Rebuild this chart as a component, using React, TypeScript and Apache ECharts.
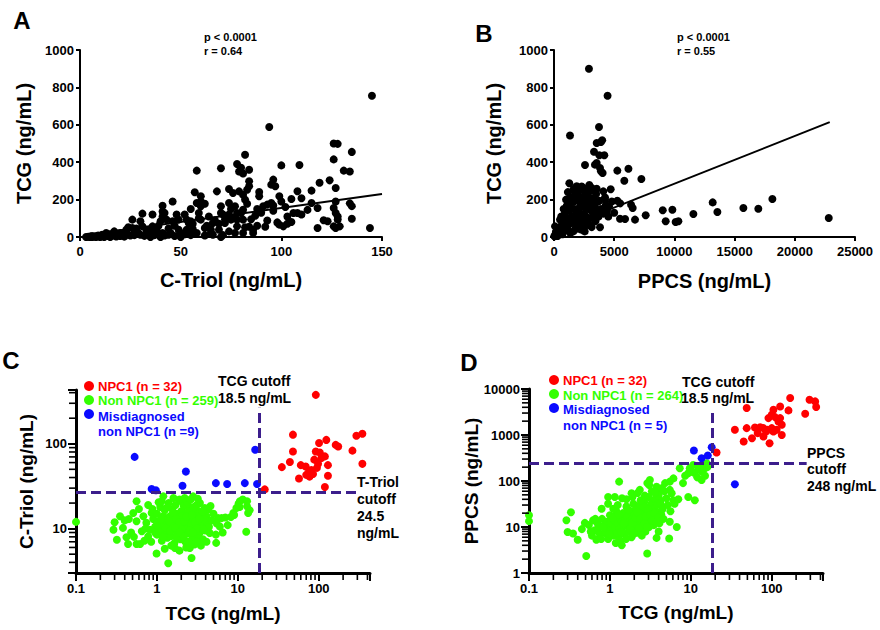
import React, { useEffect, useRef } from 'react';
import * as echarts from 'echarts';

const FONT = '"Liberation Sans", Arial, Helvetica, sans-serif';

// ---------- Panel A: C-Triol vs TCG ----------
const A_FIT = [[4, 12], [150, 230]];
const A_POINTS = [
  [145, 755], [94, 588], [126, 500], [128, 498], [135, 455], [126, 415], [82, 440], [78, 390], [80, 370], [79, 350],
  [81, 340], [84, 360], [58, 355], [70, 368], [100, 383], [109, 385], [131, 355], [134, 350], [134, 180], [135, 165],
  [119, 290], [124, 303], [127, 262], [127, 190], [126, 155], [127, 128], [128, 110], [128, 93], [123, 84], [129, 57],
  [135, 98], [118, 48], [144, 48], [115, 182], [115, 248], [108, 245], [105, 203], [110, 207], [108, 128], [110, 120],
  [103, 110], [101, 57], [96, 307], [95, 280], [97, 271], [99, 218], [100, 190], [93, 173], [91, 164], [96, 169],
  [89, 241], [89, 218], [92, 55], [98, 78], [99, 66], [84, 298], [84, 271], [83, 253], [81, 226], [82, 200],
  [83, 178], [81, 146], [80, 128], [81, 93], [87, 114], [86, 21], [77, 164], [78, 128], [78, 93], [78, 57],
  [82, 52], [76, 100], [74, 257], [74, 182], [75, 150], [74, 120], [75, 93], [71, 120], [72, 93], [72, 75],
  [70, 164], [70, 128], [69, 71], [69, 39], [70, 0], [66, 75], [65, 39], [65, 21], [68, 244], [62, 178],
  [60, 218], [60, 190], [60, 164], [59, 128], [59, 100], [60, 93], [57, 239], [58, 182], [55, 84], [56, 71],
  [56, 43], [62, 48], [53, 93], [54, 75], [55, 150], [52, 120], [49, 93], [48, 120], [50, 21], [49, 39],
  [50, 0], [46, 190], [46, 84], [43, 93], [41, 137], [42, 128], [41, 167], [41, 110], [40, 84], [45, 21],
  [41, 21], [38, 39], [36, 57], [36, 120], [31, 125], [30, 84], [31, 57], [33, 39], [26, 93], [27, 21],
  [26, 48], [29, 21], [23, 39], [23, 21], [20, 21], [17, 30], [13, 21], [12, 7], [8, 4], [5, 0],
  [3, 0], [35, 0], [40, 0], [36, 21], [53, 39], [58, 21], [77, 21], [81, 21], [86, 39], [76, 235],
  [79, 244], [106, 128], [105, 80], [103, 71], [126, 57], [127, 48], [95, 182], [88, 150], [90, 130], [85, 95],
  [64, 110], [67, 90], [63, 60], [47, 60], [44, 45], [39, 60], [34, 30], [28, 45], [24, 52], [22, 10],
  [19, 12], [16, 8], [15, 15], [14, 5], [11, 12], [10, 3], [9, 8], [7, 2], [6, 5], [5, 3],
  [4, 1], [6, 0], [8, 0], [10, 0], [12, 0], [15, 0], [18, 3], [20, 5], [22, 2], [25, 8],
  [27, 10], [30, 12], [32, 6], [34, 15], [37, 10], [39, 14], [42, 8], [44, 12], [47, 5], [52, 15],
  [55, 10], [62, 8], [66, 12], [71, 10], [74, 30], [84, 55], [88, 60], [93, 88], [96, 140], [102, 160],
  [113, 145], [118, 155], [121, 90],
];

// ---------- Panel B: PPCS vs TCG ----------
const B_FIT = [[0, 30], [22900, 614]];
const B_POINTS = [
  [2900, 900], [4450, 755], [1330, 543], [3740, 588], [3900, 508], [3545, 503], [4000, 517], [3323, 456], [3400, 387], [3545, 396],
  [3766, 437], [4181, 437], [3820, 369], [3900, 351], [4040, 342], [2575, 385], [2935, 278], [1274, 287], [5261, 355], [6180, 365],
  [5840, 301], [7255, 310], [4710, 255], [4098, 244], [4236, 212], [3766, 194], [5261, 194], [6400, 173], [6535, 155], [7615, 116],
  [6730, 93], [5900, 96], [5480, 98], [9030, 143], [9830, 146], [9276, 84], [10100, 80], [10330, 84], [11575, 123], [13180, 185],
  [13570, 134], [15730, 155], [16970, 151], [18140, 203], [22820, 102], [4513, 110], [4570, 164], [4236, 200], [3545, 258], [3130, 262],
  [2714, 253], [2437, 262], [3820, 52], [3130, 53], [2630, 61], [83, 57], [221, 21], [28, 4], [498, 93], [914, 128],
  [1052, 164], [1190, 200], [1385, 214], [1606, 253], [1883, 271], [2160, 253],
  [100, 10], [200, 30], [300, 5], [400, 40], [500, 20], [600, 60], [700, 15], [800, 80], [900, 35], [1000, 100],
  [1100, 50], [1200, 140], [1300, 70], [1400, 180], [1500, 110], [1600, 30], [1700, 150], [1800, 200], [1900, 90], [2000, 230],
  [2100, 130], [2200, 170], [2300, 60], [2400, 210], [2500, 120], [2600, 190], [2700, 150], [2800, 230], [2900, 100], [3000, 175],
  [3100, 140], [3200, 205], [3300, 120], [3400, 160], [3500, 230], [3600, 135], [3700, 110], [3900, 150], [4100, 125], [4300, 170],
  [1150, 240], [1350, 20], [1550, 80], [1750, 240], [1950, 45], [2150, 190], [2350, 95], [2550, 30], [2750, 80], [2950, 210],
  [3150, 250], [3350, 200], [3450, 85], [3650, 190], [600, 110], [800, 150], [1000, 200], [1250, 100], [1450, 150], [1650, 190],
  [1850, 120], [2050, 70], [2250, 40], [2450, 160], [2650, 110], [2850, 180], [3050, 60], [3250, 170], [1700, 260], [2300, 270],
  [2600, 240], [2000, 150], [1500, 210], [1100, 170], [900, 60], [700, 90], [400, 15], [250, 45], [150, 25], [50, 5],
  [1800, 50], [2500, 75], [3000, 100], [4400, 140], [4800, 190], [5000, 130], [5500, 180], [1900, 220], [2200, 100],
];

// ---------- Panel C: TCG vs C-Triol (log-log) ----------
const C_NPC1 = [
  [92, 377], [48, 128], [292, 124], [346, 131], [101, 102], [124, 111], [162, 97], [174, 93], [92, 81], [103, 79],
  [48, 81], [261, 83], [119, 71], [108, 68], [88, 65], [44, 61], [35, 53], [60, 56], [69, 54], [130, 56],
  [346, 58], [98, 58], [95, 52], [81, 49], [70, 43], [77, 41], [85, 44], [57, 39], [130, 42], [119, 31],
  [21.5, 29], [75, 46],
];
const C_MISDIAG = [
  [0.53, 70], [16.4, 85], [2.28, 47], [2.07, 32], [0.86, 29.3], [0.97, 28.3], [5.35, 34.4], [7.38, 33.5], [12.2, 34.4], [17.3, 33.5],
];
const C_NON_NPC1 = [
  [0.1, 12], [0.3, 11.9], [0.29, 9.7], [0.32, 7.4], [0.35, 14], [0.38, 10.2], [0.44, 6.6], [0.42, 7.9], [0.56, 21], [0.51, 15.3],
  [0.56, 12.2], [0.62, 6.6], [0.56, 6.6], [0.52, 8], [0.65, 9.3], [0.74, 11.7], [0.82, 9.7], [0.78, 8.1], [0.86, 15.3], [0.78, 19],
  [0.99, 5.1], [1.38, 3.9], [1.67, 5.9], [2.55, 5.9], [2.68, 4.5], [1.2, 24], [2.8, 24], [2.0, 21], [3.4, 20], [4.3, 16.8],
  [4.1, 14], [4.5, 8.9], [5.35, 8.5], [5.4, 6.8], [5.7, 13.3], [6.3, 13.3], [6.0, 10.6], [8.2, 13.7], [8.8, 15.3], [9.6, 17.5],
  [10.2, 19.7], [10.6, 21], [13, 18.3], [13.4, 15.3], [12.7, 9.2], [0.45, 13], [0.48, 9], [0.6, 17], [0.68, 14], [0.7, 7.2],
  [0.72, 10], [0.4, 12.5], [0.9, 13], [0.95, 10.5], [1.0, 8.5], [1.0, 15], [1.05, 12], [1.1, 9.5], [1.1, 18], [1.15, 7.2],
  [1.2, 11], [1.2, 14], [1.25, 16.5], [1.3, 9], [1.3, 12.5], [1.35, 7.8], [1.4, 20], [1.4, 10.5], [1.45, 14], [1.5, 8.2],
  [1.5, 12], [1.55, 17], [1.6, 9.8], [1.6, 13.5], [1.65, 6.8], [1.7, 11], [1.7, 19], [1.75, 15], [1.8, 8.8], [1.8, 12.5],
  [1.85, 10], [1.9, 14.5], [1.9, 22], [1.95, 7.5], [2.0, 11.5], [2.0, 16], [2.1, 9.2], [2.1, 13], [2.15, 18.5], [2.2, 10.5],
  [2.25, 7], [2.3, 12], [2.3, 15], [2.4, 8.8], [2.4, 20], [2.5, 11], [2.5, 13.8], [2.6, 9.5], [2.6, 17], [2.7, 12.5],
  [2.75, 7.8], [2.8, 10.5], [2.9, 15], [3.0, 9], [3.0, 13], [3.1, 19], [3.2, 11], [3.3, 8], [3.3, 16], [3.4, 12.5],
  [3.5, 10], [3.6, 14], [3.7, 7.5], [3.8, 11.5], [3.9, 17.5], [4.0, 9.5], [4.2, 12], [1.15, 21], [1.6, 23], [2.2, 23],
  [2.6, 22], [3.2, 22.5], [1.25, 5.8], [1.5, 6.3], [1.9, 5.5], [2.3, 6], [2.9, 6.5], [3.5, 6.3], [0.85, 7], [0.88, 17],
  [1.05, 20.5], [1.35, 18], [1.55, 10.8], [1.75, 8], [2.05, 14], [2.35, 9.8], [2.45, 16], [2.65, 11.5], [2.85, 18], [3.05, 11.8],
  [3.25, 14], [3.45, 9.2], [3.65, 16], [3.85, 13], [4.1, 7], [4.4, 10.5], [4.6, 18.5], [4.8, 12.5], [5.0, 15], [1.0, 11],
  [1.12, 13], [1.28, 10.2], [1.42, 12.2], [1.58, 15.5], [1.72, 13], [1.88, 11.8], [2.02, 9.8], [2.18, 12.2], [2.32, 13.8], [2.55, 9.5],
  [2.72, 14.5], [2.95, 12], [3.15, 10], [3.35, 13], [3.75, 9.8], [0.95, 9], [1.18, 8], [1.45, 9.4], [1.68, 10.2], [1.92, 9],
  [2.15, 8], [2.45, 7], [2.78, 9], [3.08, 7], [5.5, 11.5], [6.5, 9], [7.0, 13.5], [7.5, 11], [9.0, 14.5], [10.5, 18],
  [11.5, 22], [14, 16.5], [13, 21],
];

// ---------- Panel D: TCG vs PPCS (log-log) ----------
const D_NPC1 = [
  [169, 6370], [293, 5850], [344, 5380], [354, 4050], [259, 2900], [49, 3850], [127, 4170], [105, 3540], [100, 2760], [110, 2450],
  [161, 3430], [91, 2330], [127, 2330], [133, 1670], [121, 1970], [35, 1300], [49, 1410], [62, 1460], [72, 1480], [79, 1410],
  [85, 1190], [100, 1410], [105, 1190], [115, 1300], [57, 850], [45, 720], [79, 930], [94, 660], [133, 1000], [67, 1100],
  [20.8, 415], [88, 1300],
];
const D_MISDIAG = [[10.9, 459], [13.6, 312], [16.2, 357], [18.1, 543], [35, 85]];
const D_NON_NPC1 = [
  [0.1, 18], [0.1, 13.4], [0.29, 14], [0.33, 21], [0.3, 7.8], [0.35, 7.2], [0.4, 5.3], [0.51, 2.35], [0.49, 12.3], [0.62, 14],
  [0.65, 8.5], [0.68, 5.3], [0.79, 25], [0.95, 45], [1.3, 97], [1.1, 25], [1.13, 16.7], [1.0, 10], [0.9, 7.2], [1.28, 6.1],
  [1.55, 19.6], [1.41, 42], [1.85, 54], [2.34, 64], [2.57, 38], [3.12, 105], [3.06, 82], [3.77, 75], [3.97, 54], [4.2, 38],
  [4.4, 27.5], [3.77, 19.6], [5.5, 97], [6.1, 114], [5.5, 64], [5.8, 54], [6.1, 38], [5.5, 13], [6.7, 10], [5.4, 5.6],
  [3.77, 5.8], [2.89, 2.65], [7.3, 189], [9.3, 45], [11.2, 38], [9.3, 147], [9.7, 189], [10.7, 223], [12.9, 205], [13.6, 160],
  [14.2, 223], [13.6, 105], [15.7, 243], [0.45, 9], [0.55, 11], [0.6, 6.5], [0.7, 12], [0.72, 9.5], [0.75, 7], [0.8, 15],
  [0.85, 11], [0.88, 8], [0.92, 13], [0.95, 5.5], [1.0, 18], [1.02, 12], [1.05, 8.5], [1.1, 6.5], [1.12, 14], [1.15, 10],
  [1.2, 22], [1.22, 7.5], [1.25, 12], [1.3, 16], [1.32, 9], [1.35, 5], [1.4, 13], [1.45, 20], [1.5, 10.5], [1.52, 7],
  [1.55, 14], [1.6, 28], [1.62, 11], [1.65, 17], [1.7, 8], [1.75, 13], [1.8, 22], [1.82, 10], [1.85, 6], [1.9, 15],
  [1.95, 32], [2.0, 12], [2.02, 19], [2.05, 9], [2.1, 25], [2.15, 14], [2.2, 7.5], [2.25, 11], [2.3, 18], [2.35, 30],
  [2.4, 13], [2.45, 9.5], [2.5, 22], [2.55, 15], [2.6, 11], [2.65, 35], [2.7, 18], [2.75, 8], [2.8, 26], [2.85, 13],
  [2.9, 20], [3.0, 45], [3.0, 16], [3.05, 10], [3.1, 28], [3.2, 22], [3.25, 13], [3.3, 34], [3.4, 18], [3.5, 25],
  [3.5, 11], [3.6, 40], [3.7, 15], [3.8, 30], [3.9, 21], [4.0, 48], [4.1, 12], [4.2, 33], [4.3, 19], [4.5, 25],
  [4.7, 60], [5.0, 42], [5.2, 30], [0.58, 8], [0.66, 15], [0.78, 5.5], [0.82, 9.8], [0.98, 7], [1.08, 16], [1.18, 4.5],
  [1.28, 19], [1.38, 7.8], [1.48, 12], [1.58, 5.5], [1.68, 24], [1.78, 9.2], [1.88, 12.5], [1.98, 7.2], [2.08, 16], [2.18, 21],
  [2.28, 9.5], [2.38, 15.5], [2.48, 6.5], [2.58, 28], [2.68, 12], [2.78, 17], [2.88, 10], [2.98, 24], [3.15, 18.5], [3.35, 14],
  [3.55, 20], [3.75, 12.5], [3.95, 16], [1.4, 4], [1.6, 40], [1.9, 45], [2.2, 55], [2.4, 38], [2.7, 48], [1.25, 30],
  [0.95, 32], [1.15, 45], [3.3, 60], [3.6, 55], [4.4, 70], [4.8, 90], [2.9, 90], [4.0, 8], [4.6, 15], [5.6, 22],
  [6.3, 32], [7.0, 40], [8.0, 90], [8.5, 130], [10.0, 160], [11.0, 150], [12.0, 120], [12.5, 180], [14.5, 180], [16.0, 200],
  [15.0, 130],
];

// cut-offs
const TCG_CUTOFF = 18.5;
const CTRIOL_CUTOFF_LINE = 27;
const PPCS_CUTOFF = 248;

// log-axis minor tick values
const TCG_MINOR = [0.2, 0.3, 0.4, 0.5, 0.6, 0.7, 0.8, 0.9, 2, 3, 4, 5, 6, 7, 8, 9, 20, 30, 40, 50, 60, 70, 80, 90, 200, 300, 400];
const CTRIOL_MINOR = [4, 5, 6, 7, 8, 9, 20, 30, 40, 50, 60, 70, 80, 90, 200, 300, 400];
const PPCS_MINOR = [2, 3, 4, 5, 6, 7, 8, 9, 20, 30, 40, 50, 60, 70, 80, 90, 200, 300, 400, 500, 600, 700, 800, 900,
  2000, 3000, 4000, 5000, 6000, 7000, 8000, 9000];

const RED = '#ff0000';
const GREEN = '#33ff00';
const BLUE = '#0a0aff';
const PURPLE = '#3c1e8c';

const logFmt = (v: number) => {
  const l = Math.log10(v);
  if (Math.abs(l - Math.round(l)) > 1e-6) return '';
  return v < 1 ? '0.1' : String(Math.round(v));
};
const plainFmt = (v: number) => String(v);

function axisBase(gridIndex: number, name: string, nameGap: number, nameSize: number, lineW: number, margin: number, fmt: any, tickLen: number) {
  return {
    gridIndex,
    name,
    nameLocation: 'middle',
    nameGap,
    nameMoveOverlap: false,
    nameTextStyle: { color: '#000', fontWeight: 'bold', fontSize: nameSize, fontFamily: FONT },
    axisLine: { show: true, onZero: false, lineStyle: { color: '#000', width: lineW } },
    axisTick: { show: true, inside: false, length: tickLen, lineStyle: { color: '#000', width: 2 } },
    axisLabel: {
      color: '#000', fontWeight: 'bold', fontSize: 13, fontFamily: FONT, margin,
      showMinLabel: true, showMaxLabel: true, formatter: fmt,
    },
    splitLine: { show: false },
    minorTick: { show: false },
  };
}

// minor ticks of the log axes, drawn as thin rect symbols placed by the axes' own scales
function xMinorTicks(idx: number, values: number[], yMin: number) {
  return {
    type: 'scatter', xAxisIndex: idx, yAxisIndex: idx, silent: true, clip: false, z: 6,
    data: values.map((v) => [v, yMin]),
    symbol: 'rect', symbolSize: [1.6, 7], symbolOffset: [0, 3.5],
    itemStyle: { color: '#000', opacity: 1 }, emphasis: { disabled: true },
  };
}
function yMinorTicks(idx: number, values: number[], xMin: number) {
  return {
    type: 'scatter', xAxisIndex: idx, yAxisIndex: idx, silent: true, clip: false, z: 6,
    data: values.map((v) => [xMin, v]),
    symbol: 'rect', symbolSize: [7, 1.6], symbolOffset: [-3.5, 0],
    itemStyle: { color: '#000', opacity: 1 }, emphasis: { disabled: true },
  };
}

function txt(text: string, x: number, y: number, size: number, fill = '#000', align = 'left') {
  return {
    type: 'text', x, y, silent: true, z: 10,
    style: { text, fontSize: size, fontWeight: 'bold', fontFamily: FONT, fill, align, verticalAlign: 'middle' },
  };
}
function dot(cx: number, cy: number, fill: string) {
  return { type: 'circle', shape: { cx, cy, r: 5 }, style: { fill }, silent: true, z: 10 };
}

const dashed = (data: any[]) => ({
  symbol: ['none', 'none'], silent: true, animation: false,
  label: { show: false },
  lineStyle: { color: PURPLE, width: 3, type: [10, 5] },
  emphasis: { disabled: true },
  data,
});

function buildOption() {
  const scatter = (idx: number, data: number[][], color: string, name: string, extra: any = {}) => ({
    type: 'scatter', name, xAxisIndex: idx, yAxisIndex: idx, data, symbol: 'circle', symbolSize: 8,
    itemStyle: { color, opacity: 1 }, emphasis: { disabled: true }, ...extra,
  });
  const fit = (idx: number, data: number[][]) => ({
    type: 'line', xAxisIndex: idx, yAxisIndex: idx, data, symbol: 'none', showSymbol: false,
    lineStyle: { color: '#000', width: 2 }, z: 4, emphasis: { disabled: true },
  });

  return {
    animation: false,
    backgroundColor: '#fff',
    grid: [
      { left: 80, top: 50, width: 302, height: 187, outerBoundsMode: 'none', containLabel: false },
      { left: 554, top: 50, width: 301, height: 187, outerBoundsMode: 'none', containLabel: false },
      { left: 76, top: 390, width: 294, height: 183, outerBoundsMode: 'none', containLabel: false },
      { left: 529, top: 389, width: 294, height: 184, outerBoundsMode: 'none', containLabel: false },
    ],
    xAxis: [
      { ...axisBase(0, 'C-Triol (ng/mL)', 33, 20, 2, 8, plainFmt, 4), type: 'value', min: 0, max: 150, interval: 50 },
      { ...axisBase(1, 'PPCS (ng/mL)', 34, 20, 2, 8, plainFmt, 4), type: 'value', min: 0, max: 25000, interval: 5000 },
      { ...axisBase(2, 'TCG (ng/mL)', 31, 19, 3, 9, logFmt, 8), type: 'log', logBase: 10, min: 0.1, max: 430 },
      { ...axisBase(3, 'TCG (ng/mL)', 30, 19, 3, 9, logFmt, 8), type: 'log', logBase: 10, min: 0.1, max: 430 },
    ],
    yAxis: [
      { ...axisBase(0, 'TCG (ng/mL)', 46, 20, 2, 6, plainFmt, 4), type: 'value', min: 0, max: 1000, interval: 200 },
      { ...axisBase(1, 'TCG (ng/mL)', 50, 20, 2, 6, plainFmt, 4), type: 'value', min: 0, max: 1000, interval: 200 },
      { ...axisBase(2, 'C-Triol (ng/mL)', 40, 19, 3, 9, logFmt, 8), type: 'log', logBase: 10, min: 3, max: 430 },
      { ...axisBase(3, 'PPCS (ng/mL)', 48, 19, 3, 9, logFmt, 8), type: 'log', logBase: 10, min: 1, max: 10000 },
    ],
    series: [
      scatter(0, A_POINTS, '#000', 'A'),
      fit(0, A_FIT),
      scatter(1, B_POINTS, '#000', 'B'),
      fit(1, B_FIT),
      scatter(2, C_NON_NPC1, GREEN, 'Non NPC1 (n = 259)'),
      scatter(2, C_MISDIAG, BLUE, 'Misdiagnosed non NPC1 (n =9)'),
      scatter(2, C_NPC1, RED, 'NPC1 (n = 32)', {
        markLine: dashed([
          [{ coord: [TCG_CUTOFF, 3] }, { coord: [TCG_CUTOFF, 265] }],
          [{ coord: [0.1, CTRIOL_CUTOFF_LINE] }, { coord: [295, CTRIOL_CUTOFF_LINE] }],
        ]),
      }),
      xMinorTicks(2, TCG_MINOR, 3),
      yMinorTicks(2, CTRIOL_MINOR, 0.1),
      scatter(3, D_NON_NPC1, GREEN, 'Non NPC1 (n = 264)'),
      scatter(3, D_MISDIAG, BLUE, 'Misdiagnosed non NPC1 (n = 5)'),
      scatter(3, D_NPC1, RED, 'NPC1 (n = 32) ', {
        markLine: dashed([
          [{ coord: [TCG_CUTOFF, 1] }, { coord: [TCG_CUTOFF, 3870] }],
          [{ coord: [0.1, PPCS_CUTOFF] }, { coord: [270, PPCS_CUTOFF] }],
        ]),
      }),
      xMinorTicks(3, TCG_MINOR, 1),
      yMinorTicks(3, PPCS_MINOR, 0.1),
    ],
    graphic: [
      txt('A', 22, 20, 24, '#000', 'center'),
      txt('B', 484, 33, 24, '#000', 'center'),
      txt('C', 11, 360, 24, '#000', 'center'),
      txt('D', 469, 362, 24, '#000', 'center'),
      txt('p < 0.0001', 204, 37, 11),
      txt('r = 0.64', 204, 51, 11),
      txt('p < 0.0001', 677, 37, 11),
      txt('r = 0.55', 677, 51, 11),
      // legend C
      dot(89, 386, RED), dot(89, 400, GREEN), dot(89, 414, BLUE),
      txt('NPC1 (n = 32)', 98, 386, 13, RED),
      txt('Non NPC1 (n = 259)', 98, 400, 13, GREEN),
      txt('Misdiagnosed', 98, 416, 13, BLUE),
      txt('non NPC1 (n =9)', 98, 431, 13, BLUE),
      // legend D
      dot(554, 380, RED), dot(554, 394, GREEN), dot(554, 408, BLUE),
      txt('NPC1 (n = 32)', 563, 380, 13, RED),
      txt('Non NPC1 (n = 264)', 563, 395, 13, GREEN),
      txt('Misdiagnosed', 563, 409, 13, BLUE),
      txt('non NPC1 (n = 5)', 563, 425, 13, BLUE),
      // cutoff notes C
      txt('TCG cutoff', 218, 381, 14),
      txt('18.5 ng/mL', 218, 398, 14),
      txt('T-Triol', 357, 482, 14),
      txt('cutoff', 357, 499, 14),
      txt('24.5', 357, 516, 14),
      txt('ng/mL', 357, 533, 14),
      // cutoff notes D
      txt('TCG cutoff', 682, 382, 14),
      txt('18.5 ng/mL', 681, 398, 14),
      txt('PPCS', 807, 453, 14),
      txt('cutoff', 807, 469, 14),
      txt('248 ng/mL', 807, 486, 14),
    ],
  };
}

export default function App() {
  const ref = useRef<HTMLDivElement>(null);
  useEffect(() => {
    if (!ref.current) return;
    const chart = echarts.init(ref.current, null, { renderer: 'svg' });
    chart.setOption(buildOption() as any);
    return () => chart.dispose();
  }, []);
  return (
    <div
      ref={ref}
      style={{ position: 'absolute', left: 0, top: 0, width: 880, height: 630, background: '#fff' }}
    />
  );
}
